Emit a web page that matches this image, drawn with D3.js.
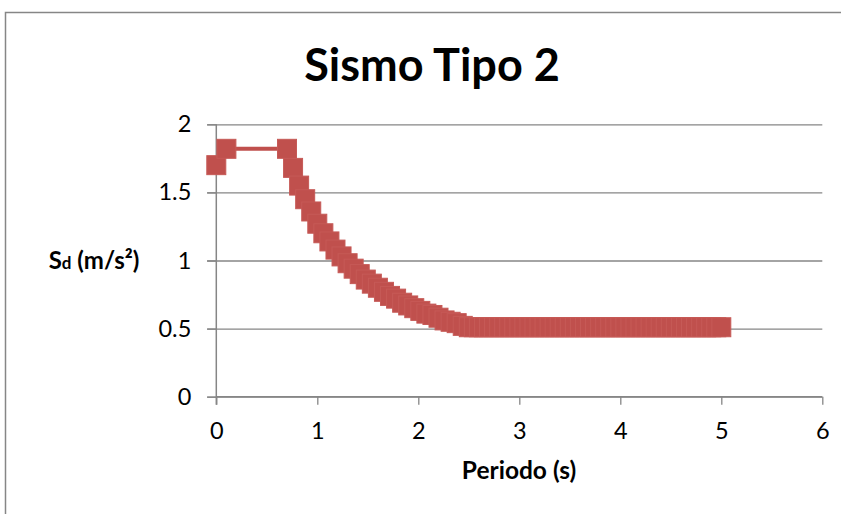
<!DOCTYPE html>
<html>
<head>
<meta charset="utf-8">
<script src="https://cdn.jsdelivr.net/npm/d3@7"></script>
<style>
  html, body { margin: 0; padding: 0; background: #fff; }
  svg { display: block; }
</style>
</head>
<body>
<svg id="chart" width="841" height="514"></svg>
<script>
// Design spectrum, seismic type 2: period T (s) against Sd (m/s²)
const periodsRise = [0, 0.1];
const sdRise = [1.7, 1.82];

const periodsDecay = [0.7, 0.76, 0.82, 0.88, 0.94, 1.0, 1.06, 1.12, 1.18, 1.24, 1.3, 1.36, 1.42, 1.48,
  1.54, 1.6, 1.66, 1.72, 1.78, 1.84, 1.9, 1.96, 2.02, 2.08, 2.14, 2.2, 2.26, 2.32, 2.38, 2.44, 2.5];
const sdDecay = [1.82, 1.68, 1.55, 1.45, 1.36, 1.27, 1.2, 1.14, 1.08, 1.03, 0.98, 0.94, 0.9, 0.86,
  0.83, 0.8, 0.77, 0.74, 0.72, 0.69, 0.67, 0.65, 0.63, 0.61, 0.6, 0.58, 0.56, 0.55, 0.54, 0.52, 0.51];

const periodsFlat = [2.55, 2.6, 2.65, 2.7, 2.75, 2.8, 2.85, 2.9, 2.95, 3.0, 3.05, 3.1, 3.15, 3.2, 3.25,
  3.3, 3.35, 3.4, 3.45, 3.5, 3.55, 3.6, 3.65, 3.7, 3.75, 3.8, 3.85, 3.9, 3.95, 4.0, 4.05, 4.1, 4.15,
  4.2, 4.25, 4.3, 4.35, 4.4, 4.45, 4.5, 4.55, 4.6, 4.65, 4.7, 4.75, 4.8, 4.85, 4.9, 4.95, 5.0];
const sdFlat = [0.51, 0.51, 0.51, 0.51, 0.51, 0.51, 0.51, 0.51, 0.51, 0.51, 0.51, 0.51, 0.51, 0.51, 0.51,
  0.51, 0.51, 0.51, 0.51, 0.51, 0.51, 0.51, 0.51, 0.51, 0.51, 0.51, 0.51, 0.51, 0.51, 0.51, 0.51, 0.51, 0.51,
  0.51, 0.51, 0.51, 0.51, 0.51, 0.51, 0.51, 0.51, 0.51, 0.51, 0.51, 0.51, 0.51, 0.51, 0.51, 0.51, 0.51];

const xTicks = [0, 1, 2, 3, 4, 5, 6];
const yTicks = [0, 0.5, 1, 1.5, 2];

const titleText = "Sismo Tipo 2";
const xTitle = "Periodo (s)";

const periods = periodsRise.concat(periodsDecay, periodsFlat);
const sdValues = sdRise.concat(sdDecay, sdFlat);
const points = periods.map((t, i) => ({ t: t, sd: sdValues[i] }));

const FONT = "Lato, 'Open Sans', sans-serif";
const GRID = "#868686";
const RED = "#C0504D";

const svg = d3.select("#chart");

// chart-area frame (runs off the right and bottom edges)
svg.append("rect")
  .attr("x", 5.5).attr("y", 12.5)
  .attr("width", 900).attr("height", 600)
  .attr("fill", "#fff")
  .attr("stroke", GRID).attr("stroke-width", 1.5);

const x = d3.scaleLinear().domain([0, 6]).range([216.3, 822.3]);
const y = d3.scaleLinear().domain([0, 2]).range([396.7, 124.3]);

// horizontal gridlines
const grid = svg.append("g")
  .attr("transform", "translate(207,0)")
  .call(d3.axisRight(y).tickValues(yTicks).tickSize(x(6) - 207).tickFormat(""));
grid.select(".domain").remove();
grid.selectAll(".tick line").attr("stroke", GRID).attr("stroke-width", 1.3);

// y axis with labels
const yAxis = svg.append("g")
  .attr("transform", `translate(${x(0)},0)`)
  .call(d3.axisLeft(y).tickValues(yTicks).tickSize(9).tickPadding(16)
    .tickFormat(d => String(d)));
yAxis.select(".domain").attr("stroke", GRID).attr("stroke-width", 1.5)
  .attr("d", `M0,${y(2)}V${y(0) + 8}`);
yAxis.selectAll(".tick line").attr("stroke", GRID).attr("stroke-width", 1.3);
yAxis.selectAll(".tick text")
  .attr("font-family", FONT).attr("font-size", 23.5).attr("fill", "#000");

// x axis with labels
const xAxis = svg.append("g")
  .attr("transform", `translate(0,${y(0)})`)
  .call(d3.axisBottom(x).tickValues(xTicks).tickSize(8).tickPadding(18)
    .tickFormat(d => String(d)));
xAxis.select(".domain").attr("stroke", GRID).attr("stroke-width", 1.5)
  .attr("d", `M${x(0)},0H${x(6)}`);
xAxis.selectAll(".tick line").attr("stroke", GRID).attr("stroke-width", 1.3);
xAxis.selectAll(".tick text")
  .attr("font-family", FONT).attr("font-size", 23.5).attr("fill", "#000");

// connecting line
const line = d3.line().x(d => x(d.t)).y(d => y(d.sd));
svg.append("path")
  .datum(points)
  .attr("d", line)
  .attr("fill", "none")
  .attr("stroke", RED)
  .attr("stroke-width", 4);

// square markers
const M = 19;
svg.append("g").selectAll("rect")
  .data(points)
  .join("rect")
  .attr("x", d => x(d.t) - M / 2)
  .attr("y", d => y(d.sd) - M / 2)
  .attr("width", M).attr("height", M)
  .attr("fill", RED)
  .attr("stroke", "#C65A57").attr("stroke-width", 1);

// title
svg.append("text")
  .attr("x", 432).attr("y", 81)
  .attr("text-anchor", "middle")
  .attr("font-family", FONT).attr("font-weight", "bold")
  .attr("font-size", 45).attr("fill", "#000")
  .text(titleText);

// x axis title
svg.append("text")
  .attr("x", 519).attr("y", 479)
  .attr("text-anchor", "middle")
  .attr("font-family", FONT).attr("font-weight", "bold")
  .attr("font-size", 24.5).attr("fill", "#000")
  .text(xTitle);

// y axis title: S with a smaller d
const yt = svg.append("text")
  .attr("x", 94).attr("y", 269)
  .attr("text-anchor", "middle")
  .attr("font-family", FONT).attr("font-weight", "bold")
  .attr("font-size", 24).attr("fill", "#000");
yt.append("tspan").text("S");
yt.append("tspan").attr("font-size", 17).text("d");
yt.append("tspan").text(" (m/s²)");
</script>
</body>
</html>
